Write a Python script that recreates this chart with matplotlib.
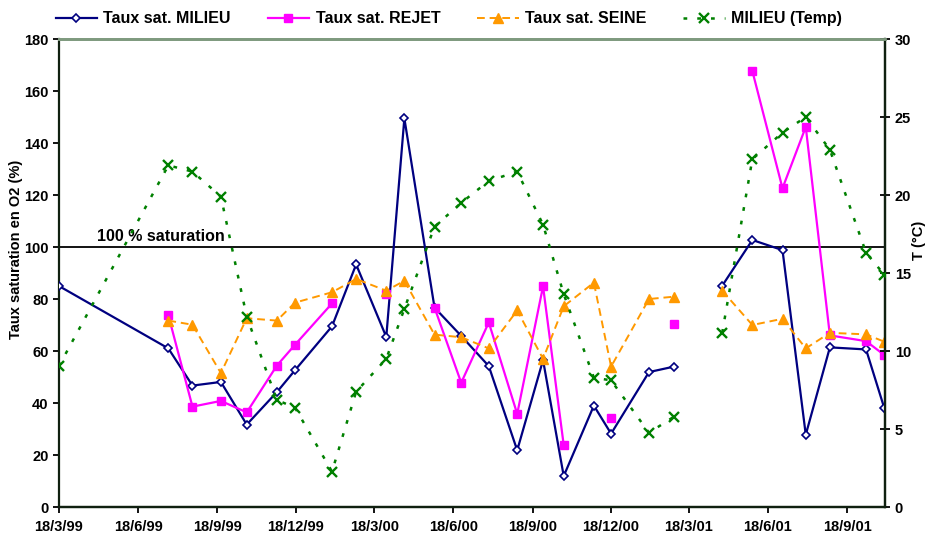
import numpy as np
import pandas as pd
import matplotlib
matplotlib.use("Agg")
import matplotlib.pyplot as plt
import matplotlib.transforms as mtransforms

plt.rcParams["font.family"] = ["Liberation Sans", "DejaVu Sans"]
plt.rcParams["font.weight"] = "bold"

dates = pd.to_datetime([
    "1999-03-18", "1999-07-23", "1999-08-20", "1999-09-22", "1999-10-22",
    "1999-11-26", "1999-12-17", "2000-01-29", "2000-02-26", "2000-04-01",
    "2000-04-22", "2000-05-27", "2000-06-27", "2000-07-29", "2000-08-31",
    "2000-09-30", "2000-10-24", "2000-11-28", "2000-12-18", "2001-01-31",
    "2001-03-01", "2001-03-29", "2001-04-26", "2001-05-31", "2001-07-05",
    "2001-08-01", "2001-08-29", "2001-10-10", "2001-10-31",
])

nan = np.nan
sat_milieu = [85, 61, 46.7, 48.1, 31.7, 44.2, 52.6, 69.5, 93.3, 65.4,
              149.5, 76.7, 65.8, 54.2, 21.8, 56.5, 11.9, 39, 28.2, 51.9,
              54, nan, 85.1, 102.7, 98.8, 27.8, 61.4, 60.6, 38.2]
sat_rejet = [nan, 73.7, 38.6, 40.8, 36.4, 54.4, 62.4, 78.3, nan, 81.8,
             nan, 76.7, 47.8, 71, 35.8, 84.9, 23.8, nan, 34.1, nan,
             70.4, nan, nan, 167.7, 122.6, 146.2, 66, 63.8, 58.5]
sat_seine = [nan, 71.7, 70.1, 51.5, 72.6, 71.7, 78.6, 82.6, 87.7, 83.2,
             87, 66.3, 65.3, 61, 75.6, 57, 77.2, 86.3, 54, 80,
             80.9, nan, 83.2, 70, 72.4, 61, 67, 66.4, 63.6]
temp_milieu = [9.04, 21.9, 21.5, 19.9, 12.2, 6.86, 6.37, 2.27, 7.39, 9.5,
               12.7, 17.97, 19.5, 20.9, 21.5, 18.1, 13.65, 8.29, 8.12, 4.76,
               5.79, nan, 11.17, 22.3, 24.0, 25.0, 22.9, 16.3, 14.9]

tick_dates = pd.to_datetime([
    "1999-03-18", "1999-06-18", "1999-09-18", "1999-12-18", "2000-03-18",
    "2000-06-18", "2000-09-18", "2000-12-18", "2001-03-18", "2001-06-18",
    "2001-09-18",
])
tick_labels = ["18/3/99", "18/6/99", "18/9/99", "18/12/99", "18/3/00",
               "18/6/00", "18/9/00", "18/12/00", "18/3/01", "18/6/01",
               "18/9/01"]

fig = plt.figure(figsize=(9.27, 5.36), dpi=100)
ax = fig.add_axes([0.0636, 0.0541, 0.8911, 0.8731])
ax2 = ax.twinx()

l1, = ax.plot(dates, sat_milieu, color="#000080", lw=1.6, marker="D",
              ms=4, mfc="white", mec="#000080", mew=1.2, zorder=3,
              label="Taux sat. MILIEU")
l2, = ax.plot(dates, sat_rejet, color="#FF00FF", lw=1.6, marker="s",
              ms=5.5, mfc="#FF00FF", mec="#FF00FF", zorder=4,
              label="Taux sat. REJET")
l3, = ax.plot(dates, sat_seine, color="#FF9900", lw=1.4, ls=(0, (4, 2.5)),
              marker="^", ms=6.5, mfc="#FF9900", mec="#FF9900", zorder=5,
              label="Taux sat. SEINE")
l4, = ax2.plot(dates, temp_milieu, color="#008000", lw=1.8, ls=(0, (1.5, 4)),
               marker="x", ms=7.5, mew=1.7, zorder=6,
               label="MILIEU (Temp)")

# 100 % saturation reference line
ax.axhline(100, color="black", lw=1.3, zorder=2)
trans = mtransforms.blended_transform_factory(ax.transAxes, ax.transData)
ax.text(0.046, 101, "100 % saturation", transform=trans, fontsize=11.5,
        fontweight="bold", va="bottom", ha="left")

ax.set_xlim(pd.Timestamp("1999-03-18"), pd.Timestamp("2001-11-01"))
ax.set_ylim(0, 180)
ax.set_yticks(np.arange(0, 181, 20))
ax2.set_ylim(0, 30)
ax2.set_yticks(np.arange(0, 31, 5))
ax.set_xticks(tick_dates)
ax.set_xticklabels(tick_labels)

ax.set_ylabel("Taux saturation en O2 (%)", fontsize=10.5, fontweight="bold")
ax.yaxis.set_label_coords(-0.043, 0.55)
ax2.set_ylabel("T (°C)", fontsize=10.5, fontweight="bold")
ax2.yaxis.set_label_coords(1.033, 0.57)

spine_col = "#102010"
for a in (ax, ax2):
    for side in ("left", "right", "bottom"):
        a.spines[side].set_color(spine_col)
        a.spines[side].set_linewidth(1.6)
    a.spines["top"].set_color("#7f9a7f")
    a.spines["top"].set_linewidth(2)
    a.tick_params(labelsize=10.5, width=1.3, length=4, colors="black")
ax.tick_params(axis="x", pad=5)
ax2.tick_params(axis="y", direction="inout", length=7)
ax2.spines["left"].set_visible(False)

fig.legend(handles=[l1, l2, l3, l4], loc="center", ncol=4,
           bbox_to_anchor=(0.484, 0.9646), frameon=False, fontsize=11.5,
           handlelength=2.6, columnspacing=2.3, handletextpad=0.4)

fig.savefig("out.png", dpi=100)
